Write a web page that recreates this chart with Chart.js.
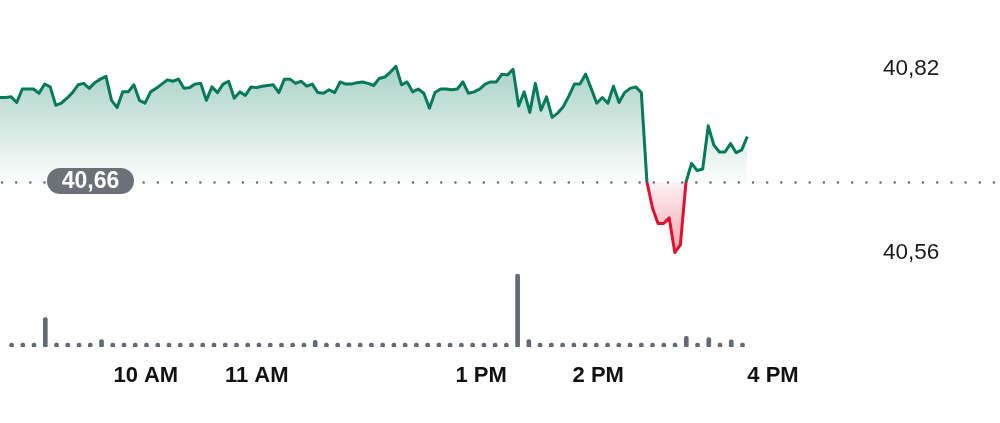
<!DOCTYPE html>
<html>
<head>
<meta charset="utf-8">
<script src="https://cdn.jsdelivr.net/npm/chart.js@4.4.1/dist/chart.umd.min.js"></script>
<style>
    html, body { margin: 0; padding: 0; background: #fff; }
    #wrap { width: 1000px; height: 423px; }
</style>
</head>
<body>
<div id="wrap"><canvas id="chart" width="1000" height="423"></canvas></div>
<script>
// one price every 3 minutes, x is minutes after the first print
const priceStep = 3;
const prices = [
    40.780, 40.780, 40.781, 40.773, 40.792, 40.792, 40.792, 40.786, 40.799, 40.795,
    40.769, 40.772, 40.779, 40.787, 40.798, 40.800, 40.793, 40.801, 40.806, 40.810,
    40.776, 40.766, 40.788, 40.788, 40.798, 40.776, 40.772, 40.788, 40.793, 40.799,
    40.805, 40.803, 40.806, 40.793, 40.794, 40.799, 40.800, 40.776, 40.795, 40.787,
    40.799, 40.803, 40.779, 40.788, 40.783, 40.795, 40.794, 40.796, 40.797, 40.798,
    40.787, 40.806, 40.806, 40.800, 40.803, 40.796, 40.799, 40.787, 40.786, 40.791,
    40.787, 40.802, 40.799, 40.799, 40.801, 40.802, 40.800, 40.797, 40.807, 40.809,
    40.816, 40.824, 40.798, 40.802, 40.788, 40.792, 40.786, 40.765, 40.787, 40.792,
    40.792, 40.791, 40.792, 40.802, 40.786, 40.788, 40.792, 40.799, 40.802, 40.802,
    40.813, 40.812, 40.820, 40.768, 40.788, 40.759, 40.800, 40.762, 40.781, 40.752,
    40.758, 40.767, 40.782, 40.799, 40.799, 40.813, 40.793, 40.772, 40.780, 40.772,
    40.796, 40.773, 40.787, 40.793, 40.795, 40.787, 40.661, 40.624, 40.602, 40.602,
    40.610, 40.561, 40.572, 40.660, 40.687, 40.677, 40.679, 40.740, 40.713, 40.703,
    40.703, 40.715, 40.702, 40.706, 40.725
];
const prevClose = 40.66;

// volume per bar (shares)
const volumes = [
    800, 800, 800, 7400, 800, 800, 800, 800, 1900, 800, 800,
    800, 800, 800, 800, 800, 800, 800, 800, 800, 800, 800,
    800, 800, 800, 800, 800, 1700, 800, 800, 800, 800, 800,
    800, 800, 800, 800, 800, 800, 800, 800, 800, 800, 800,
    800, 18250, 1900, 800, 800, 800, 800, 800, 800, 800, 800,
    800, 800, 800, 800, 800, 2700, 800, 2400, 800, 1800, 800
];

const priceTicks = [40.56, 40.82];
const timeTicks = [61, 121, 245, 308, 402];
const timeLabels = ['10 AM', '11 AM', '1 PM', '2 PM', '4 PM'];

const green = '#067a58';
const red = '#e2102e';
const grey = '#636a73';

function fmt(v) {
    return v.toFixed(2).replace('.', ',');
}

// line turns red below the previous close
function lineColor(chart) {
    const {ctx, chartArea, scales} = chart;
    if (!chartArea) return green;
    const base = scales.y.getPixelForValue(prevClose);
    const f = Math.min(1, Math.max(0, (base - chartArea.top) / (chartArea.bottom - chartArea.top)));
    const g = ctx.createLinearGradient(0, chartArea.top, 0, chartArea.bottom);
    g.addColorStop(0, green);
    g.addColorStop(f, green);
    g.addColorStop(f, red);
    g.addColorStop(1, red);
    return g;
}

function areaFill(chart) {
    const {ctx, chartArea, scales} = chart;
    if (!chartArea) return {target: {value: prevClose}, above: 'rgba(8,125,90,0.15)', below: 'rgba(226,16,46,0.15)'};
    const base = scales.y.getPixelForValue(prevClose);
    const top = scales.y.getPixelForValue(priceTicks[1]);
    const bottom = scales.y.getPixelForValue(priceTicks[0]);

    const up = ctx.createLinearGradient(0, top, 0, base);
    up.addColorStop(0, 'rgba(8,125,90,0.34)');
    up.addColorStop(1, 'rgba(8,125,90,0.01)');

    const down = ctx.createLinearGradient(0, base, 0, bottom);
    down.addColorStop(0, 'rgba(226,16,46,0.06)');
    down.addColorStop(1, 'rgba(226,16,46,0.38)');

    return {target: {value: prevClose}, above: up, below: down};
}

// dotted previous-close line and its label
const prevClosePlugin = {
    id: 'prevClose',
    beforeDatasetsDraw(chart) {
        const {ctx, scales} = chart;
        const y = scales.y.getPixelForValue(prevClose);
        ctx.save();
        ctx.strokeStyle = grey;
        ctx.lineWidth = 2.5;
        ctx.lineCap = 'round';
        ctx.setLineDash([0, 14.17]);
        ctx.beginPath();
        ctx.moveTo(2, y);
        ctx.lineTo(chart.width, y);
        ctx.stroke();
        ctx.restore();
    },
    afterDatasetsDraw(chart) {
        const {ctx, scales} = chart;
        const y = scales.y.getPixelForValue(prevClose) - 1.5;
        const cx = 90.5, w = 87, h = 26;
        ctx.save();
        ctx.fillStyle = '#6c7179';
        ctx.beginPath();
        ctx.roundRect(cx - w / 2, y - h / 2, w, h, h / 2);
        ctx.fill();
        ctx.fillStyle = '#fff';
        ctx.font = 'bold 23px "Liberation Sans", Arial, sans-serif';
        ctx.textAlign = 'center';
        ctx.textBaseline = 'middle';
        ctx.fillText(fmt(prevClose), cx, y + 1);
        ctx.restore();
    }
};

new Chart(document.getElementById('chart'), {
    type: 'line',
    data: {
        datasets: [
            {
                data: prices.map((p, i) => ({x: i * priceStep, y: p})),
                xAxisID: 'x',
                yAxisID: 'y',
                borderColor: c => lineColor(c.chart),
                borderWidth: 3,
                borderJoinStyle: 'round',
                pointRadius: 0,
                tension: 0,
                fill: c => areaFill(c.chart)
            },
            {
                type: 'bar',
                data: volumes.map((v, k) => ({x: k, y: v})),
                xAxisID: 'xv',
                yAxisID: 'yv',
                backgroundColor: grey,
                barThickness: 4,
                minBarLength: 4,
                borderRadius: 2,
                borderSkipped: false
            }
        ]
    },
    options: {
        responsive: false,
        animation: false,
        layout: { padding: { left: 0, right: 0, top: 0, bottom: 18.5 } },
        plugins: {
            legend: { display: false },
            tooltip: { enabled: false }
        },
        scales: {
            x: {
                type: 'linear',
                min: 0,
                max: 475,
                grid: { display: false, drawTicks: false },
                border: { display: false },
                afterBuildTicks: s => { s.ticks = timeTicks.map(v => ({value: v})); },
                ticks: {
                    align: 'start',
                    padding: 15.5,
                    maxRotation: 0,
                    autoSkip: false,
                    color: '#111',
                    font: { family: '"Liberation Sans", Arial, sans-serif', size: 22, weight: 'bold', lineHeight: 1.2 },
                    callback: (v, i) => timeLabels[i]
                }
            },
            xv: { type: 'linear', display: false, offset: false, min: -0.85, max: 77.67 },
            y: {
                type: 'linear',
                position: 'right',
                min: 40.4275,
                max: 40.8987,
                grid: { display: false, drawTicks: false },
                border: { display: false },
                afterBuildTicks: s => { s.ticks = priceTicks.map(v => ({value: v})); },
                afterFit: s => { s.width = 117; },
                ticks: {
                    padding: 0,
                    color: '#1a1a1a',
                    font: { family: '"Liberation Sans", Arial, sans-serif', size: 22.5, lineHeight: 1.2 },
                    callback: v => fmt(v)
                }
            },
            yv: { type: 'linear', display: false, min: 0, max: 83400 }
        }
    },
    plugins: [prevClosePlugin]
});
</script>
</body>
</html>
